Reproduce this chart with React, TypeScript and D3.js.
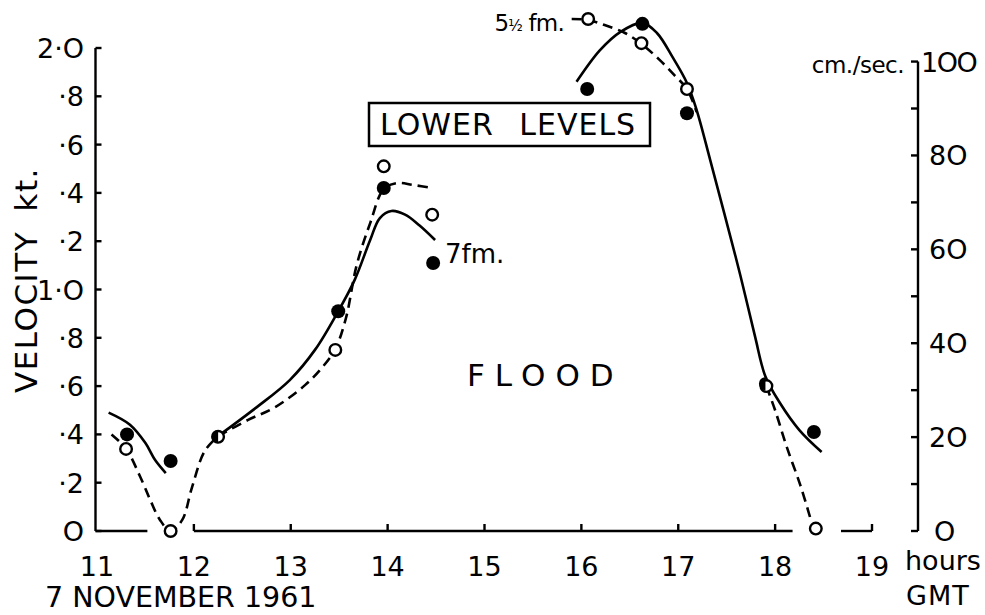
import React from "react";
import * as d3 from "d3";

// ---- data ----
const xTickHours = [11, 12, 13, 14, 15, 16, 17, 18, 19];
const xTickLabels = ["11", "12", "13", "14", "15", "16", "17", "18", "19"];
const ktTicks = [0, 0.2, 0.4, 0.6, 0.8, 1.0, 1.2, 1.4, 1.6, 1.8, 2.0];
const ktTickLabels = ["O", "·2", "·4", "·6", "·8", "1·O", "·2", "·4", "·6", "·8", "2·O"];
const cmTicks = [0, 10, 20, 30, 40, 50, 60, 70, 80, 90, 100];
const cmTickLabels = ["O", "", "2O", "", "4O", "", "6O", "", "8O", "", "1OO"];
const axisSegments: [number, number][] = [[10.98, 11.52], [12.0, 18.18], [18.68, 19.0]];

// 7 fm. (filled dots)
const hours7 = [11.31, 11.76, 12.25, 13.49, 13.96, 14.47, 16.06, 16.63, 17.09, 17.90, 18.40];
const kt7 = [0.40, 0.29, 0.39, 0.91, 1.42, 1.11, 1.83, 2.10, 1.73, 0.61, 0.41];
// 5½ fm. (open circles)
const hours55 = [11.30, 11.76, 12.25, 13.46, 13.96, 14.46, 16.07, 16.62, 17.09, 17.91, 18.42];
const kt55 = [0.34, 0.0, 0.39, 0.75, 1.51, 1.31, 2.12, 2.02, 1.83, 0.60, 0.01];

// hand-drawn curves (hour, kt)
const solid7a: [number, number][] = [[11.12, 0.49], [11.34, 0.44], [11.5, 0.364], [11.6, 0.294], [11.71, 0.24]];
const solid7b: [number, number][] = [
  [12.25, 0.393], [12.65, 0.513], [12.99, 0.625], [13.25, 0.75], [13.49, 0.91], [13.66, 1.04],
  [13.82, 1.205], [13.92, 1.296], [14.04, 1.325], [14.18, 1.31], [14.33, 1.265], [14.49, 1.205],
];
const solid7c: [number, number][] = [
  [15.95, 1.86], [16.19, 1.99], [16.40, 2.066], [16.63, 2.104], [16.78, 2.062], [16.94, 1.963],
  [17.09, 1.855], [17.19, 1.743], [17.33, 1.536], [17.48, 1.308], [17.64, 1.06], [17.79, 0.81],
  [17.90, 0.64], [18.05, 0.53], [18.25, 0.418], [18.48, 0.327],
];
const dashed55a: [number, number][] = [
  [11.15, 0.40], [11.30, 0.34], [11.44, 0.23], [11.55, 0.128], [11.65, 0.046], [11.76, 0.0],
  [11.88, 0.046], [11.98, 0.18], [12.11, 0.33], [12.25, 0.393],
];
const dashed55b: [number, number][] = [
  [12.25, 0.393], [12.56, 0.46], [12.84, 0.513], [13.15, 0.605], [13.32, 0.675], [13.46, 0.754],
  [13.57, 0.882], [13.68, 1.10], [13.82, 1.275], [13.96, 1.416], [14.10, 1.441], [14.26, 1.433], [14.47, 1.42],
];
const dashed55c: [number, number][] = [
  [15.90, 2.12], [16.07, 2.116], [16.24, 2.095], [16.45, 2.062], [16.62, 2.017], [16.81, 1.95],
  [16.96, 1.888], [17.09, 1.83], [17.19, 1.735],
];
const dashed55d: [number, number][] = [[17.91, 0.60], [18.0, 0.50], [18.12, 0.348], [18.26, 0.19], [18.36, 0.058]];

const FONT = "'DejaVu Sans', sans-serif";

export default function App() {
  const x = d3.scaleLinear().domain([11, 19]).range([97, 872]);
  const y = d3.scaleLinear().domain([0, 2]).range([531, 48]);
  const yc = (cm: number) => y(cm / 51.444);
  const leftX = 95.5;
  const rightX = 918;
  const baseY = y(0);

  const line = d3
    .line<[number, number]>()
    .x((d) => x(d[0]))
    .y((d) => y(d[1]))
    .curve(d3.curveCatmullRom.alpha(0.5));

  const solids = [solid7a, solid7b, solid7c];
  const dashes = [dashed55a, dashed55b, dashed55c, dashed55d];

  const halfArc = d3.arc()({ innerRadius: 0, outerRadius: 6.5, startAngle: Math.PI, endAngle: 2 * Math.PI }) as string;

  const coincident = (i: number) =>
    hours55.some((h, j) => Math.abs(h - hours7[i]) < 0.05 && Math.abs(kt55[j] - kt7[i]) < 0.05);

  return (
    <svg width={985} height={615} style={{ position: "absolute", left: 0, top: 0, background: "#fff" }}>
      <rect x={0} y={0} width={985} height={615} fill="#fff" />
      <g stroke="#000" strokeWidth={2.4} fill="none" strokeLinecap="butt">
        {/* left axis */}
        <line x1={leftX} y1={y(2)} x2={leftX} y2={baseY} />
        {ktTicks.map((t, i) => (
          <line key={"lt" + i} x1={leftX} x2={leftX + 6} y1={y(t)} y2={y(t)} />
        ))}
        {/* right axis */}
        <line x1={rightX} y1={yc(100)} x2={rightX} y2={baseY} />
        {cmTicks.map((t, i) => (
          <line key={"rt" + i} x1={rightX} x2={rightX - 7} y1={yc(t)} y2={yc(t)} />
        ))}
        {/* bottom axis, broken */}
        {axisSegments.map((s, i) => (
          <line key={"seg" + i} x1={i === 0 ? leftX : x(s[0])} x2={x(s[1])} y1={baseY} y2={baseY} />
        ))}
        {xTickHours.slice(1).map((h, i) => (
          <line key={"xt" + i} x1={x(h)} x2={x(h)} y1={baseY} y2={baseY - 7} />
        ))}
      </g>

      {/* curves */}
      <g fill="none" stroke="#000" strokeWidth={2.6}>
        {solids.map((s, i) => (
          <path key={"s" + i} d={line(s) as string} />
        ))}
        {dashes.map((s, i) => (
          <path key={"d" + i} d={line(s) as string} strokeDasharray="10 6" />
        ))}
      </g>

      {/* markers */}
      <g>
        {hours55.map((h, i) => (
          <circle key={"o" + i} cx={x(h)} cy={y(kt55[i])} r={5.8} fill="#fff" stroke="#000" strokeWidth={2.4} />
        ))}
        {hours7.map((h, i) =>
          coincident(i) ? (
            <path key={"f" + i} d={halfArc} transform={`translate(${x(h)},${y(kt7[i])})`} fill="#000" />
          ) : (
            <circle key={"f" + i} cx={x(h)} cy={y(kt7[i])} r={7} fill="#000" />
          )
        )}
      </g>

      {/* tick labels */}
      <g fontFamily={FONT} fontSize={27} fill="#000">
        {ktTicks.map((t, i) => (
          <text key={"ll" + i} x={84} y={y(t) + 10} textAnchor="end">
            {ktTickLabels[i]}
          </text>
        ))}
        {cmTicks.map((t, i) =>
          cmTickLabels[i] ? (
            <text key={"rl" + i} x={t === 100 ? 921 : t === 0 ? 934 : 929} y={yc(t) + 10} textAnchor="start"
              letterSpacing={t === 100 ? -1.5 : 0}>
              {cmTickLabels[i]}
            </text>
          ) : null
        )}
        {xTickHours.map((h, i) => (
          <text key={"xl" + i} x={x(h)} y={576} textAnchor="middle">
            {xTickLabels[i]}
          </text>
        ))}
        <text x={905} y={570}>hours</text>
        <text x={906} y={605} letterSpacing={1}>GMT</text>
        <text x={45} y={607} fontSize={28.5}>7 NOVEMBER 1961</text>
        <text x={904} y={73} fontSize={23} textAnchor="end" letterSpacing={-0.5}>cm./sec.</text>
        <text transform="translate(37,280) rotate(-90)" textAnchor="middle" fontSize={31} letterSpacing={1.5} wordSpacing={8}>
          VELOCITY kt.
        </text>
      </g>

      {/* annotations */}
      <rect x={369} y={103} width={281} height={43} fill="none" stroke="#000" strokeWidth={2.5} />
      <text x={380} y={135} fontFamily={FONT} fontSize={30} letterSpacing={1} wordSpacing={15}>
        LOWER LEVELS
      </text>
      <text x={467} y={386} fontFamily={FONT} fontSize={31} letterSpacing={10}>
        FLOOD
      </text>
      <text x={445} y={263} fontFamily={FONT} fontSize={26}>
        7fm.
      </text>
      <text x={564} y={31} fontFamily={FONT} fontSize={23} textAnchor="end" letterSpacing={-0.8}>
        5<tspan fontSize={15}>½</tspan> fm.
      </text>
    </svg>
  );
}
